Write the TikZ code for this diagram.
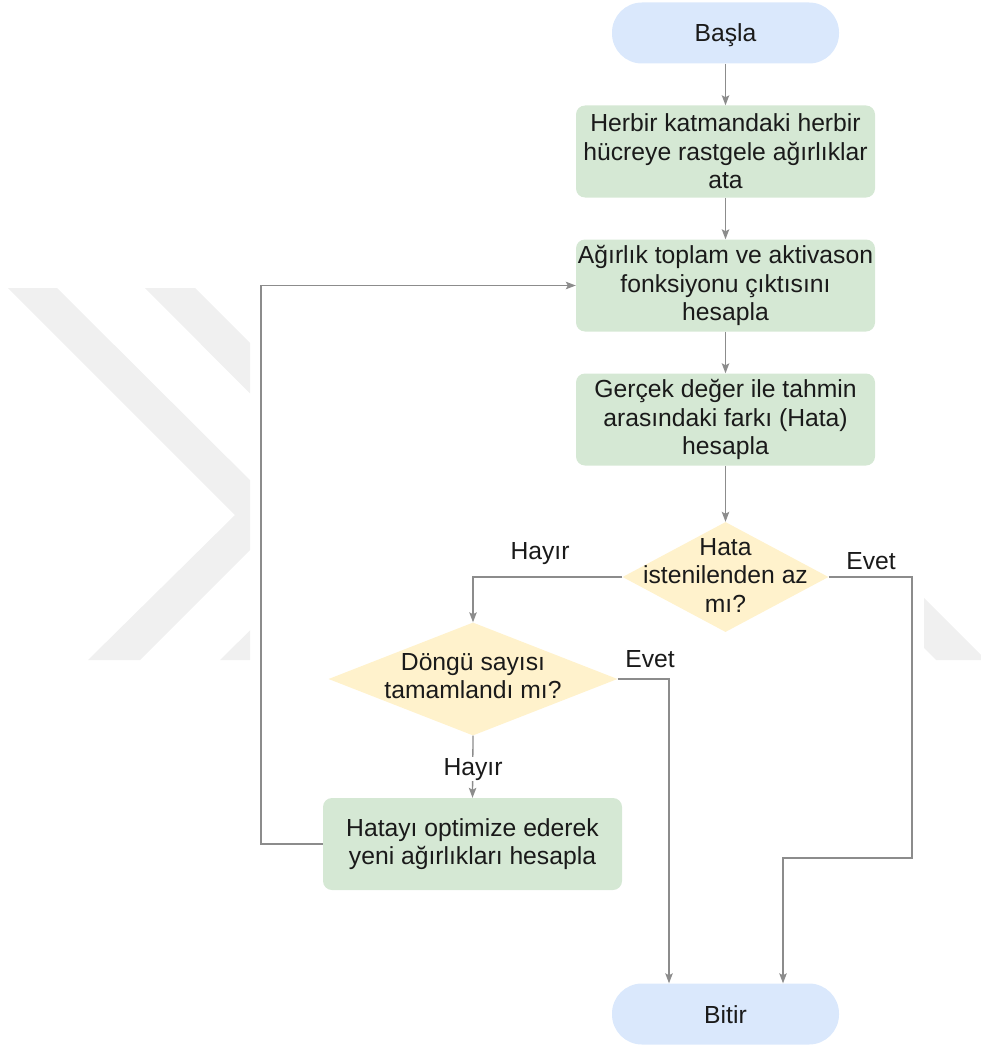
\documentclass[tikz,border=0pt]{standalone}
\usepackage{fontspec}
\setmainfont{Liberation Sans}
\usetikzlibrary{arrows.meta,shapes.geometric}

\definecolor{pillblue}{HTML}{DAE8FC}
\definecolor{stepgreen}{HTML}{D5E8D4}
\definecolor{askyellow}{HTML}{FFF2CC}
\definecolor{wire}{HTML}{8C8C8C}
\definecolor{ink}{HTML}{1A1A1A}
\definecolor{emblem}{HTML}{F0F0F0}

\tikzset{
  txt/.style={font=\fontsize{24.7}{28.5}\selectfont, text=ink, align=center, inner sep=0pt},
  terminal/.style={txt, fill=pillblue, minimum width=227pt, minimum height=61pt, rounded corners=30pt, text height=18pt, text depth=0pt},
  process/.style={txt, fill=stepgreen, minimum width=299pt, minimum height=92pt, rounded corners=9pt},
  ask/.style={shape=diamond, fill=askyellow, inner sep=0pt},
  flow/.style={draw=wire, line width=1.3pt, -{Stealth[length=10pt,width=7.5pt,inset=2pt]}},
  tag/.style={font=\fontsize{24.7}{28.5}\selectfont, text=ink, inner sep=1pt},
}

\begin{document}
\begin{tikzpicture}[x=1pt,y=-1pt]
\useasboundingbox (0,0) rectangle (981,1046);

% faint chevron emblem in the background, only at the margins
\begin{scope}
  \clip (0,0) rectangle (250,1046) (924,0) rectangle (981,1046);
  \fill[emblem] (8,288) -- (57,288) -- (285,515) -- (140,660) -- (88,660) -- (235,515) -- cycle;
  \fill[emblem] (145,288) -- (195,288) -- (420,513) -- (273,660) -- (220,660) -- (369,513) -- cycle;
  \fill[emblem] (924,598) -- (981,655) -- (981,660) -- (936,660) -- (924,648) -- cycle;
\end{scope}

% steps
\node[terminal] (start) at (725.5,33) {Başla};
\node[process] (init) at (725.5,151.5) {Herbir katmandaki herbir\\hücreye rastgele ağırlıklar\\ata};
\node[process] (sum) at (725.5,285.5) {Ağırlık toplam ve aktivason\\fonksiyonu çıktısını\\hesapla};
\node[process] (err) at (725.5,419.5) {Gerçek değer ile tahmin\\arasındaki farkı (Hata)\\hesapla};
\node[ask, minimum width=206pt, minimum height=110pt] (q1) at (725.5,577) {};
\node[txt] (q1t) at (725.5,575) {Hata\\istenilenden az\\mı?};
\node[ask, minimum width=289pt, minimum height=113pt] (q2) at (473,679) {};
\node[txt] (q2t) at (473,676) {Döngü sayısı\\tamamlandı mı?};
\node[process] (upd) at (472.5,844) {Hatayı optimize ederek\\yeni ağırlıkları hesapla};
\node[terminal] (stop) at (725.5,1014) {Bitir};

% routing points
\coordinate (bend) at (912,858);
\coordinate (loop) at (261,600);

% connectors
\draw[flow] (start) -- (init);
\draw[flow] (init) -- (sum);
\draw[flow] (sum) -- (err);
\draw[flow] (err) -- (q1);
\draw[flow] (q1.west) -| (q2.north);
\draw[flow] (q1.east) -| (bend) -| ([xshift=57.5pt]stop.north);
\draw[flow] (q2.east) -| ([xshift=-56.5pt]stop.north);
\draw[flow] (q2.south) -- (upd.north);
\draw[flow] (upd.west) -| (loop) |- (sum.west);

% branch labels
\node[tag, anchor=base] (no1) at (540,559) {Hayır};
\node[tag, anchor=base] (yes1) at (871,569) {Evet};
\node[tag, anchor=base] (yes2) at (650,667) {Evet};
\node[tag, anchor=base, fill=white] (no2) at (473,775) {Hayır};
\end{tikzpicture}
\end{document}
